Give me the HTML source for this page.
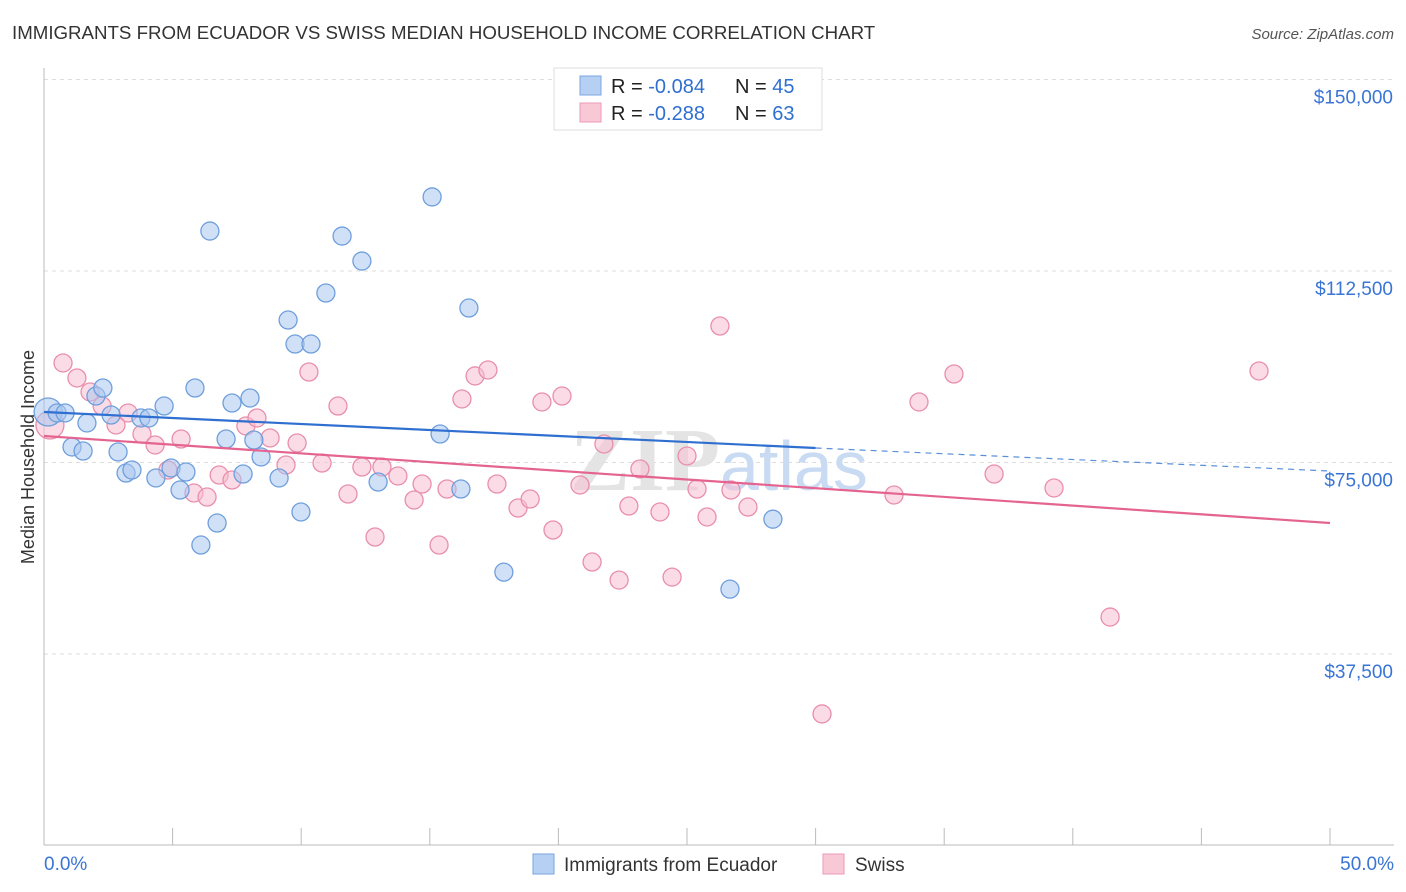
<!DOCTYPE html>
<html><head><meta charset="utf-8">
<style>
body{margin:0;background:#fff;font-family:"Liberation Sans",sans-serif;}
svg{display:block}
</style></head>
<body>
<svg id="chart" width="1406" height="892">
<text x="12" y="39" font-size="18.7" fill="#333">IMMIGRANTS FROM ECUADOR VS SWISS MEDIAN HOUSEHOLD INCOME CORRELATION CHART</text>
<text x="1394" y="39" font-size="15" fill="#555" font-style="italic" text-anchor="end">Source: ZipAtlas.com</text>
<text transform="translate(34,457) rotate(-90)" font-size="18" fill="#333" text-anchor="middle">Median Household Income</text>
<g id="grid"></g>
<text x="720" y="490" font-size="90" fill="#e4e4e4" text-anchor="end" font-family="Liberation Serif,serif" font-weight="bold">ZIP</text>
<text x="720" y="490" font-size="70" fill="#c9daf3">atlas</text>
<g id="marks"></g>
<g>
<rect x="554" y="68" width="268" height="62" fill="#fff" stroke="#ddd"/>
<rect x="580" y="76" width="21" height="19" fill="#b5d0f3" stroke="#7aa6e0"/>
<rect x="580" y="103" width="21" height="19" fill="#f9c8d7" stroke="#eb9ab4"/>
<text x="611" y="93" font-size="20" fill="#222">R = <tspan fill="#2f6fd0">-0.084</tspan></text>
<text x="735" y="93" font-size="20" fill="#222">N = <tspan fill="#2f6fd0">45</tspan></text>
<text x="611" y="120" font-size="20" fill="#222">R = <tspan fill="#2f6fd0"> -0.288</tspan></text>
<text x="735" y="120" font-size="20" fill="#222">N = <tspan fill="#2f6fd0">63</tspan></text>
</g>
<g>
<rect x="533" y="854" width="21" height="20" fill="#b5d0f3" stroke="#7aa6e0"/>
<text x="564" y="871" font-size="19" fill="#333">Immigrants from Ecuador</text>
<rect x="823" y="854" width="21" height="20" fill="#f9c8d7" stroke="#eb9ab4"/>
<text x="855" y="871" font-size="19" fill="#333">Swiss</text>
</g>
</svg>
<script>
const yTicks=[37500,75000,112500,150000];
const yTickLabels=["$37,500","$75,000","$112,500","$150,000"];
const xTickLabels=["0.0%","50.0%"];
const ecuadorX=[0.16,0.51,0.82,1.09,1.52,1.67,2.02,2.29,2.61,2.88,3.19,3.42,3.77,4.08,4.35,4.67,4.94,5.29,5.52,5.87,6.10,6.45,6.73,7.08,7.31,7.74,8.01,8.16,8.44,9.14,9.49,9.76,9.99,10.38,10.96,11.59,12.36,12.99,15.09,15.40,16.21,16.52,17.88,26.67,28.34];
const ecuadorY=[84890,84700,84700,78040,77250,82740,88020,89590,84300,77060,72940,73530,83720,83720,71970,86060,73920,69610,73140,89590,58840,120320,63150,79600,86650,72750,87630,79400,76080,71970,102900,98200,65310,98200,108190,119340,114450,71180,127000,80580,69810,105250,53530,50200,63900];
const swissX=[0.23,0.74,1.28,1.79,2.26,2.80,3.27,3.81,4.32,4.82,5.33,5.83,6.34,6.81,7.31,7.85,8.28,8.79,9.41,9.84,10.30,10.81,11.43,11.82,12.36,12.87,13.14,13.76,14.39,14.70,15.36,15.67,16.25,16.76,17.26,17.61,18.43,18.90,19.36,19.79,20.14,20.84,21.31,21.77,22.36,22.74,23.17,23.95,24.42,25.00,25.39,25.78,26.28,26.71,27.37,30.25,33.05,34.02,35.38,36.94,39.27,41.45,47.24];
const swissY=[82350,94490,91550,88810,86060,82350,84700,80580,78430,73530,79600,69030,68240,72550,71570,82150,83720,79800,74510,78820,92720,74900,86060,68830,74120,60410,74120,72360,67660,70790,58840,69810,87440,91950,93120,70790,66090,67850,86850,61780,88020,70600,55510,78630,51970,66480,73730,65310,52560,76280,69810,64330,101730,69610,66280,25760,68640,86850,92330,72750,70010,44730,92920];
const ecuadorTrend=[84890,77840,73330]; // at 0%, 30%, 50%
const swissTrend=[80190,63150]; // at 0%, 50%

const NS="http://www.w3.org/2000/svg";
const X=p=>44+p/50*1286;
const Y=v=>845.5-v/37500*191.5;
function mk(tag,attrs,parent){const e=document.createElementNS(NS,tag);for(const k in attrs)e.setAttribute(k,attrs[k]);parent.appendChild(e);return e;}
const grid=document.getElementById('grid'),marks=document.getElementById('marks');
yTicks.forEach((t,i)=>{
  const l=mk('line',{x1:44,x2:1394,y1:Y(t),y2:Y(t),stroke:'#ddd','stroke-dasharray':'4,4'},grid);
  
  
  const tx=mk('text',{x:1393,y:Y(t)+24,'font-size':19,fill:'#3a74d4','text-anchor':'end'},grid);
  tx.textContent=yTickLabels[i];
  
  
});
let ax=mk('line',{x1:44,x2:44,y1:68,y2:845,stroke:'#bbb'},grid);


ax=mk('line',{x1:44,x2:1394,y1:845,y2:845,stroke:'#bbb'},grid);


for(let i=0;i<=10;i++){
  const tk=mk('line',{x1:X(i*5),x2:X(i*5),y1:828,y2:845,stroke:'#bbb'},grid);
  
  
}
[[0,'start',44],[50,'end',1394]].forEach((d,i)=>{
  const tx=mk('text',{x:d[2],y:870,'font-size':19,fill:'#3a74d4','text-anchor':d[1]},grid);
  tx.textContent=xTickLabels[i];
  
  
});
function dots(xs,ys,fill,stroke,name){
  xs.forEach((x,i)=>{
    const r=(x<0.3)?14:9;
    const c=mk('circle',{cx:X(x),cy:Y(ys[i]),r:r,fill:fill,'fill-opacity':0.55,stroke:stroke,'stroke-width':1.3},marks);
    
    
  });
}
dots(swissX,swissY,'#f7bdd0','#e98fac','swiss-point');
dots(ecuadorX,ecuadorY,'#a9c7f0','#6f9fdc','ecuador-point');
let ln=mk('line',{x1:X(0),y1:Y(ecuadorTrend[0]),x2:X(30),y2:Y(ecuadorTrend[1]),stroke:'#2f6fd0','stroke-width':2.2},marks);


ln=mk('line',{x1:X(30),y1:Y(ecuadorTrend[1]),x2:X(50),y2:Y(ecuadorTrend[2]),stroke:'#5b8fdc','stroke-width':1.2,'stroke-dasharray':'6,5'},marks);


ln=mk('line',{x1:X(0),y1:Y(swissTrend[0]),x2:X(50),y2:Y(swissTrend[1]),stroke:'#e4648f','stroke-width':2.2},marks);


</script>
</body></html>
